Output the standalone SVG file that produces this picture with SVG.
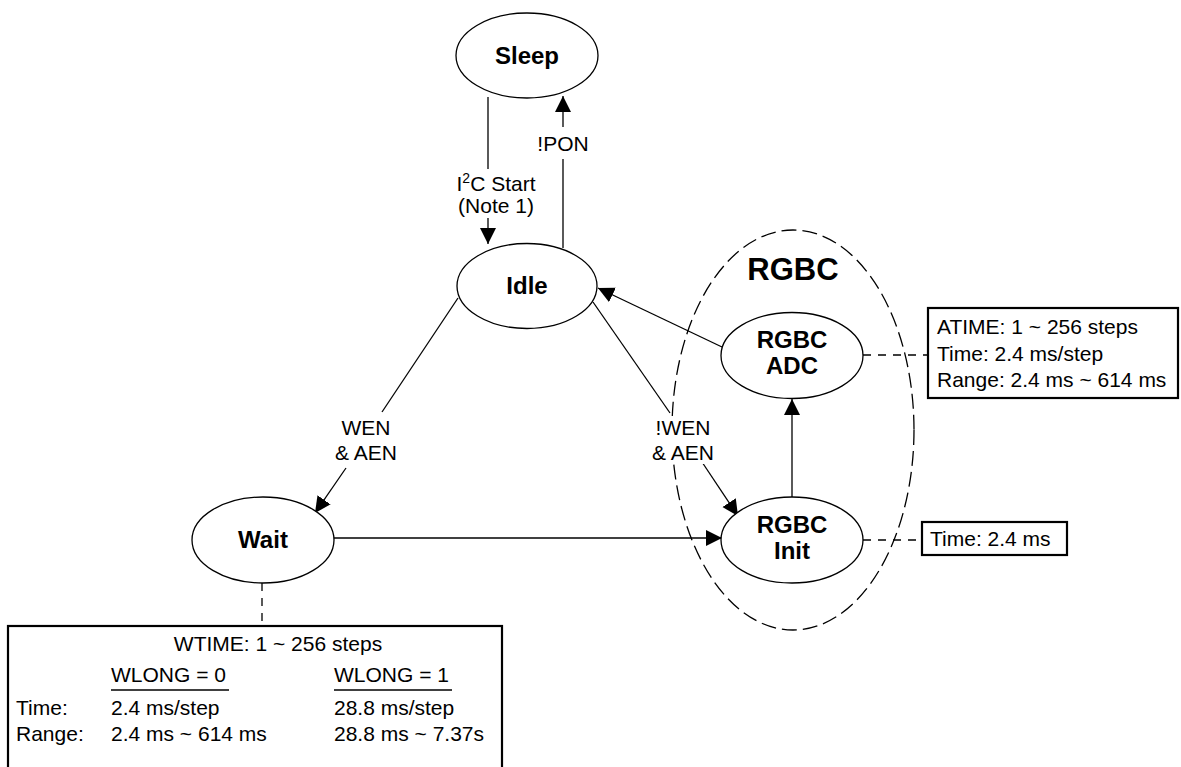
<svg xmlns="http://www.w3.org/2000/svg" width="1181" height="767" viewBox="0 0 1181 767">
<defs>
<marker id="arr" markerUnits="userSpaceOnUse" markerWidth="17" markerHeight="17" refX="16" refY="8" orient="auto" viewBox="0 0 17 16">
<path d="M0,0 L16,8 L0,16 z" fill="#000"/>
</marker>
<style>
.node{fill:#fff;stroke:#000;stroke-width:1.3}
.lbl{font-family:"Liberation Sans",Arial,sans-serif;font-size:24px;font-weight:bold;text-anchor:middle;fill:#000}
.txt{font-family:"Liberation Sans",Arial,sans-serif;font-size:21px;fill:#000}
.mid{text-anchor:middle}
.edge{stroke:#000;stroke-width:1.3;fill:none}
.dash{stroke:#000;stroke-width:1.3;fill:none;stroke-dasharray:8 7}
.group{stroke:#000;stroke-width:1.3;fill:none;stroke-dasharray:15 6}
.box{fill:#fff;stroke:#000;stroke-width:2.2}
.bg{fill:#fff;stroke:none}
</style>
</defs>
<rect width="1181" height="767" fill="#fff"/>

<g id="rgbc-group">
<ellipse cx="793" cy="430" rx="121" ry="200" class="group"/>
<text x="793" y="280" class="lbl" style="font-size:31px">RGBC</text>
</g>

<g id="connectors">
<line x1="488" y1="97" x2="488" y2="169" class="edge"/>
<line x1="488" y1="218" x2="488" y2="244" class="edge" marker-end="url(#arr)"/>
<line x1="563" y1="248" x2="563" y2="159" class="edge"/>
<line x1="563" y1="127" x2="563" y2="96" class="edge" marker-end="url(#arr)"/>
<line x1="458" y1="298" x2="382" y2="412" class="edge"/>
<line x1="346" y1="468" x2="315" y2="513" class="edge" marker-end="url(#arr)"/>
<line x1="593" y1="302" x2="670" y2="413" class="edge"/>
<line x1="702" y1="462" x2="738" y2="516" class="edge" marker-end="url(#arr)"/>
<line x1="722" y1="347" x2="598" y2="288" class="edge" marker-end="url(#arr)"/>
<line x1="792" y1="497" x2="792" y2="399" class="edge" marker-end="url(#arr)"/>
<line x1="334" y1="538" x2="722" y2="538" class="edge" marker-end="url(#arr)"/>
<line x1="863" y1="355" x2="928" y2="355" class="dash"/>
<line x1="863" y1="540" x2="922" y2="540" class="dash"/>
<line x1="262" y1="583" x2="262" y2="626" class="dash"/>
<rect x="648" y="416" width="70" height="48" class="bg"/>
<text x="496" y="191" class="txt mid">I<tspan font-size="14" dy="-8">2</tspan><tspan dy="8">C Start</tspan></text>
<text x="496" y="213" class="txt mid">(Note 1)</text>
<text x="563" y="151" class="txt mid">!PON</text>
<text x="366" y="435" class="txt mid">WEN</text>
<text x="366" y="460" class="txt mid">&amp; AEN</text>
<text x="683" y="435" class="txt mid">!WEN</text>
<text x="683" y="460" class="txt mid">&amp; AEN</text>
</g>

<g id="sleep">
<ellipse cx="527" cy="55.5" rx="71" ry="42.5" class="node"/>
<text x="527" y="64" class="lbl">Sleep</text>
</g>

<g id="idle">
<ellipse cx="527" cy="286" rx="70" ry="42.5" class="node"/>
<text x="527" y="294" class="lbl">Idle</text>
</g>

<g id="wait">
<ellipse cx="263" cy="540" rx="71" ry="43" class="node"/>
<text x="263" y="548" class="lbl">Wait</text>
</g>

<g id="rgbc-adc">
<ellipse cx="792" cy="355.5" rx="71" ry="43" class="node"/>
<text x="792" y="348" class="lbl">RGBC</text>
<text x="792" y="374" class="lbl">ADC</text>
</g>

<g id="rgbc-init">
<ellipse cx="792" cy="540" rx="71" ry="43" class="node"/>
<text x="792" y="533" class="lbl">RGBC</text>
<text x="792" y="559" class="lbl">Init</text>
</g>

<g id="atime-box">
<rect x="928" y="308" width="250" height="90" class="box"/>
<text x="937" y="334" class="txt">ATIME: 1 ~ 256 steps</text>
<text x="937" y="361" class="txt">Time: 2.4 ms/step</text>
<text x="937" y="387" class="txt">Range: 2.4 ms ~ 614 ms</text>
</g>

<g id="init-time-box">
<rect x="922" y="522" width="145" height="33" class="box"/>
<text x="930" y="546" class="txt">Time: 2.4 ms</text>
</g>

<g id="wtime-box">
<rect x="8" y="626" width="494" height="150" class="box"/>
<text x="278" y="651" class="txt mid">WTIME: 1 ~ 256 steps</text>
<text x="111" y="682" class="txt">WLONG = 0</text>
<line x1="111" y1="690" x2="229" y2="690" stroke="#000" stroke-width="1.3"/>
<text x="334" y="682" class="txt">WLONG = 1</text>
<line x1="334" y1="690" x2="452" y2="690" stroke="#000" stroke-width="1.3"/>
<text x="16" y="715" class="txt">Time:</text>
<text x="111" y="715" class="txt">2.4 ms/step</text>
<text x="334" y="715" class="txt">28.8 ms/step</text>
<text x="16" y="741" class="txt">Range:</text>
<text x="111" y="741" class="txt">2.4 ms ~ 614 ms</text>
<text x="334" y="741" class="txt">28.8 ms ~ 7.37s</text>
</g>
</svg>
